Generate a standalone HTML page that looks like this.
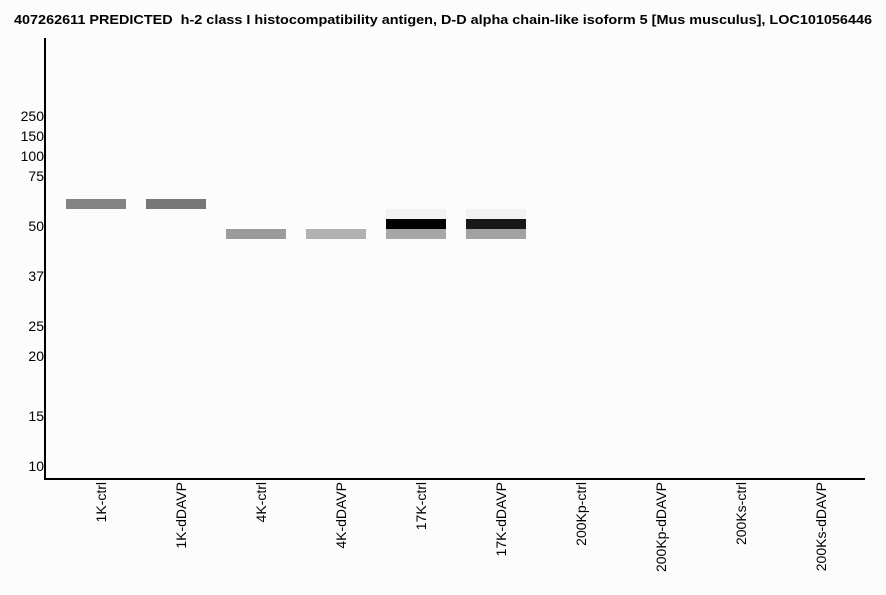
<!DOCTYPE html>
<html><head><style>body{margin:0;background:#fcfcfc}svg{display:block}</style></head><body>
<svg width="886" height="595" xmlns="http://www.w3.org/2000/svg" font-family="Liberation Sans, Arial, sans-serif">
<rect width="886" height="595" fill="#fcfcfc"/>
<text x="14" y="24" font-size="13" font-weight="bold" fill="#000" textLength="858" lengthAdjust="spacingAndGlyphs" style="white-space:pre">407262611 PREDICTED  h-2 class I histocompatibility antigen, D-D alpha chain-like isoform 5 [Mus musculus], LOC101056446</text>
<rect x="44" y="38" width="2" height="442" fill="#000"/>
<rect x="44" y="478" width="821" height="2" fill="#000"/>
<g font-size="14" fill="#000" text-anchor="end">
<text x="44" y="121">250</text><text x="44" y="141">150</text><text x="44" y="161">100</text><text x="44" y="181">75</text>
<text x="44" y="231">50</text><text x="44" y="281">37</text><text x="44" y="331">25</text><text x="44" y="361">20</text>
<text x="44" y="421">15</text><text x="44" y="471">10</text>
</g>
<rect x="66" y="199" width="60" height="10" fill="#848484"/>
<rect x="146" y="199" width="60" height="10" fill="#777"/>
<rect x="226" y="229" width="60" height="10" fill="#9b9b9b"/>
<rect x="306" y="229" width="60" height="10" fill="#b1b1b1"/>
<rect x="386" y="209" width="60" height="10" fill="#f2f2f2"/>
<rect x="386" y="219" width="60" height="10" fill="#000"/>
<rect x="386" y="229" width="60" height="10" fill="#a6a6a6"/>
<rect x="466" y="209" width="60" height="10" fill="#f2f2f2"/>
<rect x="466" y="219" width="60" height="10" fill="#181818"/>
<rect x="466" y="229" width="60" height="10" fill="#a2a2a2"/>
<g font-size="14" fill="#000" text-anchor="end">
<text transform="translate(106,482) rotate(-90)">1K-ctrl</text>
<text transform="translate(186,482) rotate(-90)">1K-dDAVP</text>
<text transform="translate(266,482) rotate(-90)">4K-ctrl</text>
<text transform="translate(346,482) rotate(-90)">4K-dDAVP</text>
<text transform="translate(426,482) rotate(-90)">17K-ctrl</text>
<text transform="translate(506,482) rotate(-90)">17K-dDAVP</text>
<text transform="translate(586,482) rotate(-90)">200Kp-ctrl</text>
<text transform="translate(666,482) rotate(-90)">200Kp-dDAVP</text>
<text transform="translate(746,482) rotate(-90)">200Ks-ctrl</text>
<text transform="translate(826,482) rotate(-90)">200Ks-dDAVP</text>
</g>
</svg>
</body></html>
